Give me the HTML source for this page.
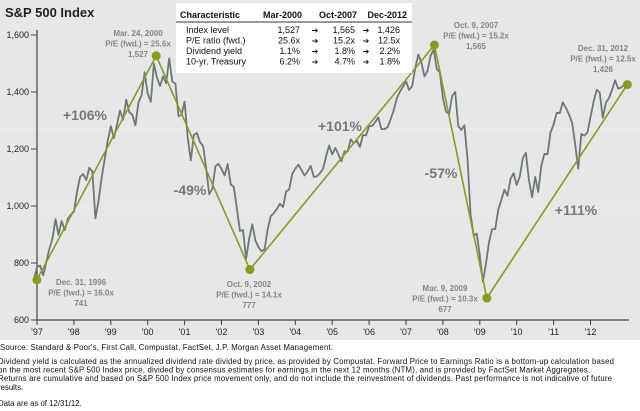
<!DOCTYPE html>
<html><head><meta charset="utf-8"><style>
html,body{margin:0;padding:0;background:#fff;}
svg{display:block;font-family:"Liberation Sans",sans-serif;}
</style></head><body>
<svg id="chart" width="640" height="411" viewBox="0 0 640 411">
<rect x="0" y="0" width="640" height="340" fill="#e6e7e6"/>
<line x1="0" y1="129" x2="640" y2="129" stroke="#efefef" stroke-width="1"/>
<line x1="0" y1="208" x2="640" y2="208" stroke="#efefef" stroke-width="1"/>
<text x="5" y="17" font-size="13" font-weight="bold" fill="#222">S&amp;P 500 Index</text>
<g id="axes"></g>
<g id="series"></g>
<g id="trend"></g>
<g id="notes"></g>
<g>
<rect x="176" y="3" width="236" height="70" fill="#fff"/>
<line x1="176" y1="22" x2="412" y2="22" stroke="#333" stroke-width="1"/>
<g font-size="9" fill="#111">
<text x="180" y="18" font-weight="bold">Characteristic</text>
<text x="302" y="18" font-weight="bold" text-anchor="end">Mar-2000</text>
<text x="357" y="18" font-weight="bold" text-anchor="end">Oct-2007</text>
<text x="407" y="18" font-weight="bold" text-anchor="end">Dec-2012</text>
</g>
<g id="tablerows" font-size="9" fill="#111"></g>
</g>
<g font-size="14" font-weight="bold" fill="#777" text-anchor="middle">
<text x="85" y="120">+106%</text>
<text x="190" y="195">-49%</text>
<text x="340" y="131">+101%</text>
<text x="441" y="178">-57%</text>
<text x="576" y="215">+111%</text>
</g>
<g font-size="7.8" fill="#111">
<text x="0" y="350" textLength="333">Source: Standard &amp; Poor's, First Call, Compustat, FactSet, J.P. Morgan Asset Management.</text>
<text x="-2" y="364" textLength="616">Dividend yield is calculated as the annualized dividend rate divided by price, as provided by Compustat. Forward Price to Earnings Ratio is a bottom-up calculation based</text>
<text x="-2" y="372.5" textLength="592">on the most recent S&amp;P 500 Index price, divided by consensus estimates for earnings in the next 12 months (NTM), and is provided by FactSet Market Aggregates.</text>
<text x="-2" y="381" textLength="614">Returns are cumulative and based on S&amp;P 500 Index price movement only, and do not include the reinvestment of dividends. Past performance is not indicative of future</text>
<text x="-2" y="390">results.</text>
<text x="-2" y="406">Data are as of 12/31/12.</text>
</g>
</svg>
<script>
const startYear = 1996.917;
const prices = [741,
786,791,757,801,848,885,954,899,947,915,955,970,
980,1049,1102,1112,1091,1134,1121,957,1017,1099,1164,1229,
1280,1238,1286,1335,1302,1373,1329,1320,1283,1363,1389,1469,
1394,1366,1499,1452,1421,1455,1431,1518,1437,1429,1315,1320,
1366,1240,1160,1249,1256,1224,1211,1134,1041,1060,1139,1148,
1130,1107,1147,1076,1067,990,912,916,815,886,936,880,
856,841,848,917,964,975,990,1008,996,1051,1058,1112,
1131,1145,1126,1107,1121,1141,1102,1104,1115,1130,1174,1212,
1181,1204,1181,1157,1192,1191,1234,1220,1229,1207,1249,1248,
1280,1281,1295,1311,1270,1270,1277,1304,1336,1378,1401,1418,
1438,1407,1421,1482,1531,1503,1455,1474,1527,1549,1481,1468,
1379,1331,1323,1386,1400,1280,1267,1283,1166,969,896,903,
826,735,798,873,919,919,987,1021,1057,1036,1096,1115,
1074,1104,1169,1187,1089,1031,1102,1049,1141,1183,1181,1258,
1286,1327,1326,1364,1345,1321,1292,1219,1131,1253,1247,1258,
1312,1366,1408,1398,1310,1362,1379,1407,1441,1412,1416,1426];
const turnDates = [1996.997, 2000.23, 2002.77, 2007.77, 2009.19, 2012.997];
const turnValues = [741, 1527, 777, 1565, 677, 1426];
const turnLabels = [["Dec. 31, 1996","P/E (fwd.) = 16.0x","741"],["Mar. 24, 2000","P/E (fwd.) = 25.6x","1,527"],["Oct. 9, 2002","P/E (fwd.) = 14.1x","777"],["Oct. 9, 2007","P/E (fwd.) = 15.2x","1,565"],["Mar. 9, 2009","P/E (fwd.) = 10.3x","677"],["Dec. 31, 2012","P/E (fwd.) = 12.5x","1,426"]];
const yTicks = [600, 800, 1000, 1200, 1400, 1600];
const yTickLabels = ["600","800","1,000","1,200","1,400","1,600"];
const xTicks = [1997,1998,1999,2000,2001,2002,2003,2004,2005,2006,2007,2008,2009,2010,2011,2012];
const xTickLabels = ["'97","'98","'99","'00","'01","'02","'03","'04","'05","'06","'07","'08","'09","'10","'11","'12"];
const tableRows = ["Index level","P/E ratio (fwd.)","Dividend yield","10-yr. Treasury"];
const colMar2000 = ["1,527","25.6x","1.1%","6.2%"];
const colOct2007 = ["1,565","15.2x","1.8%","4.7%"];
const colDec2012 = ["1,426","12.5x","2.2%","1.8%"];

const NS = "http://www.w3.org/2000/svg";
const X = t => 37 + (t - 1997) * 36.9;
const Y = v => 320 - (v - 600) * 0.285;
function mk(tag, attrs, parent, txt){
  const e = document.createElementNS(NS, tag);
  for (const k in attrs) e.setAttribute(k, attrs[k]);
  if (txt !== undefined) e.textContent = txt;
  parent.appendChild(e); return e;
}
const axes = document.getElementById('axes');
let l = mk('line',{x1:37,y1:30,x2:37,y2:320,stroke:'#444','stroke-width':1.2},axes);


l = mk('line',{x1:37,y1:320,x2:629,y2:320,stroke:'#444','stroke-width':1.2},axes);


yTicks.forEach((v,i)=>{
  const t = mk('line',{x1:31,y1:Y(v),x2:37,y2:Y(v),stroke:'#444'},axes);
  
  
  const s = mk('text',{x:29,y:Y(v)+3,'font-size':9,'text-anchor':'end',fill:'#222'},axes,yTickLabels[i]);
  
  
});
xTicks.forEach((v,i)=>{
  const t = mk('line',{x1:X(v),y1:320,x2:X(v),y2:325,stroke:'#444'},axes);
  
  
  const s = mk('text',{x:X(v),y:335,'font-size':9,'text-anchor':'middle',fill:'#222'},axes,xTickLabels[i]);
  
  
});
const series = document.getElementById('series');
const pts = prices.map((v,i)=>X(startYear + i/12).toFixed(1)+','+Y(v).toFixed(1)).join(' ');
const pl = mk('polyline',{points:pts,fill:'none',stroke:'#6d7878','stroke-width':1.8,'stroke-linejoin':'round'},series);


const trend = document.getElementById('trend');
const tp = turnDates.map((t,i)=>X(t).toFixed(1)+','+Y(turnValues[i]).toFixed(1)).join(' ');
const tl = mk('polyline',{points:tp,fill:'none',stroke:'#8c9a28','stroke-width':1.6},trend);


turnDates.forEach((t,i)=>{
  const c = mk('circle',{cx:X(t),cy:Y(turnValues[i]),r:4.5,fill:'#8c9a1e'},trend);
  
  
});
const notes = document.getElementById('notes');
const labelPos = [[81,282],[138,33],[249,284],[476,25],[445,288],[603,48]];
turnLabels.forEach((lines,i)=>{
  lines.forEach((s,j)=>{
    const e = mk('text',{x:labelPos[i][0],y:labelPos[i][1]+j*10.5+3,'font-size':8,'font-weight':'bold','text-anchor':'middle',fill:'#858585'},notes,s);
    
    
  });
});
const tr = document.getElementById('tablerows');
tableRows.forEach((r,i)=>{
  const y = 33 + i*10.5;
  let e = mk('text',{x:186,y:y},tr,r);
  
  
  e = mk('text',{x:300,y:y,'text-anchor':'end'},tr,colMar2000[i]);
  
  
  e = mk('text',{x:315,y:y,'text-anchor':'middle','font-size':8},tr,'➔');
  
  
  e = mk('text',{x:355,y:y,'text-anchor':'end'},tr,colOct2007[i]);
  
  
  e = mk('text',{x:366,y:y,'text-anchor':'middle','font-size':8},tr,'➔');
  
  
  e = mk('text',{x:400,y:y,'text-anchor':'end'},tr,colDec2012[i]);
  
  
});
</script>
</body></html>
